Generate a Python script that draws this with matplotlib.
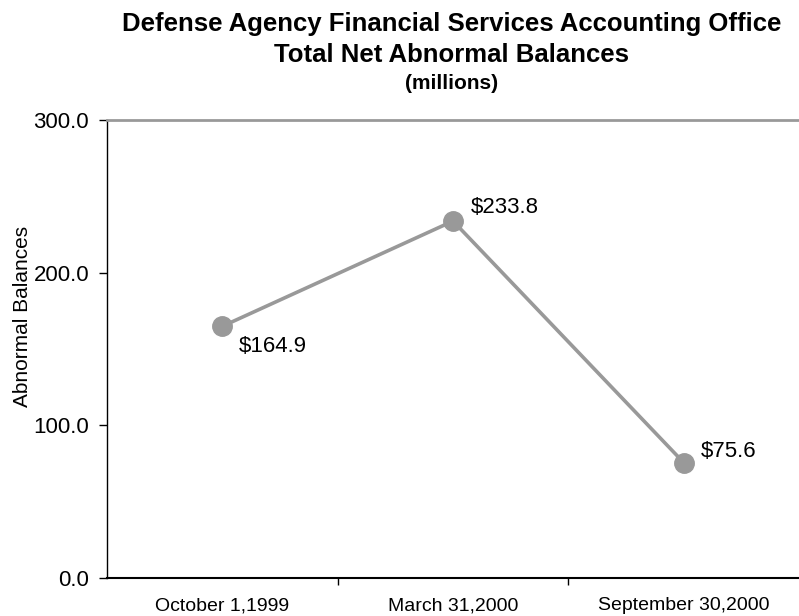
import matplotlib
matplotlib.use("Agg")
import matplotlib.pyplot as plt
from matplotlib.ticker import FormatStrFormatter

plt.rcParams['font.family'] = ['Liberation Sans', 'DejaVu Sans']

# data
tanggal = ["October 1,1999", "March 31,2000", "September 30,2000"]
saldo = [164.9, 233.8, 75.6]
label_saldo = ["$164.9", "$233.8", "$75.6"]
# posisi label relatif ke titik (pt)
offset_label = [(11.5, -14.5), (13, 10), (12, 8)]

fig = plt.figure(figsize=(7.99, 6.16), dpi=100)
ax = fig.add_axes([0.134, 0.0617, 0.866, 0.7435])

x = list(range(len(tanggal)))
ax.plot(x, saldo, color="#999999", linewidth=2.6, marker="o", markersize=14,
        markerfacecolor="#999999", markeredgecolor="#999999")

for xi, yi, lab, off in zip(x, saldo, label_saldo, offset_label):
    ax.annotate(lab, (xi, yi), xytext=off, textcoords="offset points",
                fontsize=16, va="center", ha="left")

ax.set_xlim(-0.5, 2.5)
ax.set_ylim(0, 300)
ax.set_yticks([0, 100, 200, 300])
ax.yaxis.set_major_formatter(FormatStrFormatter("%.1f"))
ax.tick_params(axis="y", labelsize=16, direction="out", length=6, width=1, pad=7)

ax.set_xticks(x)
ax.set_xticklabels(tanggal, fontsize=14)
ax.tick_params(axis="x", which="major", length=0, pad=14)
ax.set_xticks([0.5, 1.5], minor=True)
ax.tick_params(axis="x", which="minor", direction="out", length=5, width=1)

ax.spines["right"].set_visible(False)
ax.spines["top"].set_color("#999999")
ax.spines["top"].set_linewidth(2)
ax.spines["left"].set_linewidth(1)
ax.spines["bottom"].set_linewidth(1.5)

fig.text(23 / 799, 1 - 316 / 616, "Abnormal Balances", rotation=90, ha="center",
         va="center", fontsize=15)

fig.text(0.5655, 0.950, "Defense Agency Financial Services Accounting Office", ha="center",
         va="baseline", fontsize=18.5, fontweight="bold")
fig.text(0.5655, 0.899, "Total Net Abnormal Balances", ha="center", va="baseline",
         fontsize=18.5, fontweight="bold")
fig.text(0.5655, 0.856, "(millions)", ha="center", va="baseline", fontsize=15, fontweight="bold")

fig.savefig("out.png", dpi=100)
